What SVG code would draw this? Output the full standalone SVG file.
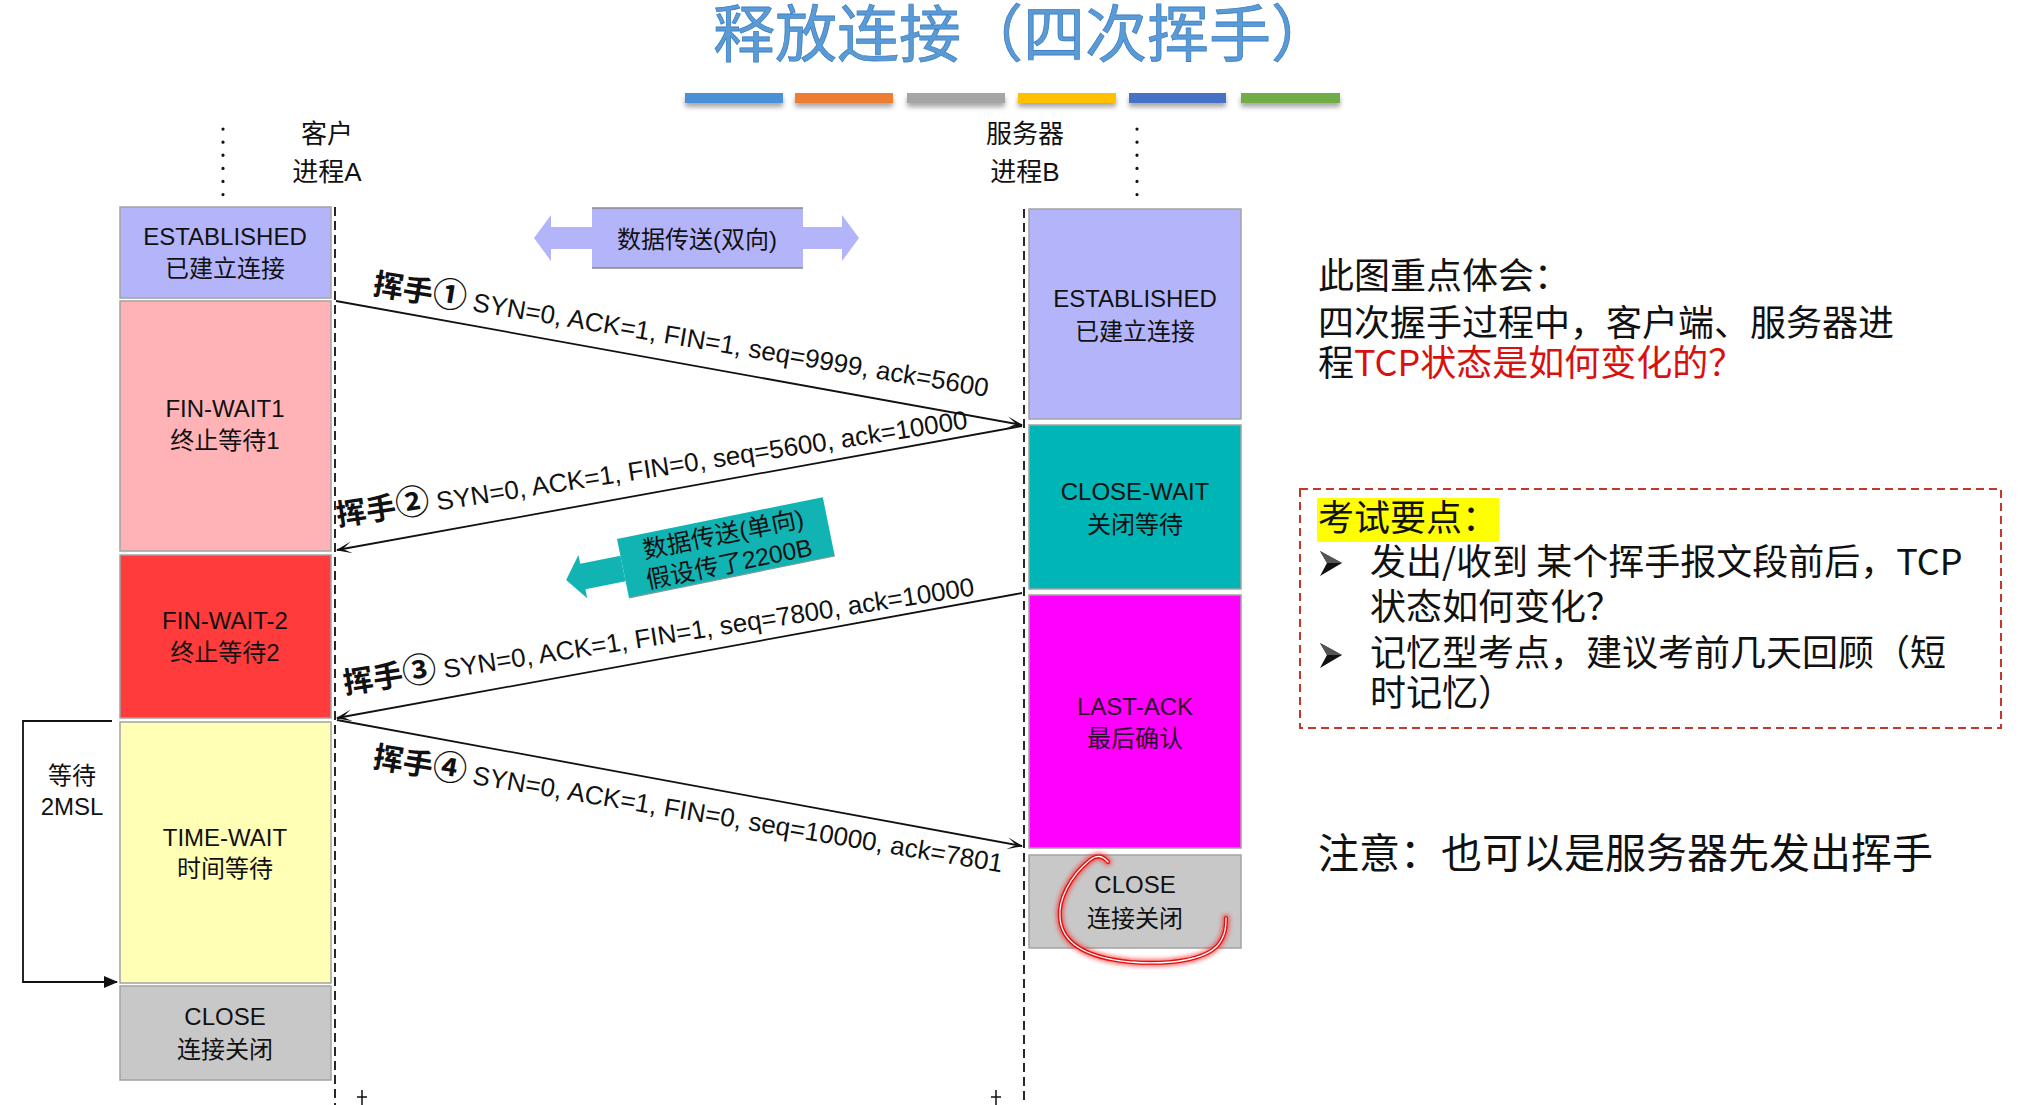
<svg xmlns="http://www.w3.org/2000/svg" width="2020" height="1105" viewBox="0 0 2020 1105">
<defs>
<style>
text{font-family:"Liberation Sans","Noto Sans CJK SC",sans-serif;fill:#111}
.cjk{font-family:"Noto Sans CJK SC",sans-serif}
.lbl{font-size:24px;text-anchor:middle}
.box{stroke:#a3a3a3;stroke-width:1.5}
.life{stroke:#111;stroke-width:1.8;stroke-dasharray:9 5;fill:none}
.dots{stroke:#111;stroke-width:3.2;stroke-linecap:round;stroke-dasharray:0.1 13;fill:none}
.msgline{stroke:#111;stroke-width:1.8;fill:none;marker-end:url(#stealth)}
.hw{font-family:"Noto Sans CJK SC",sans-serif;font-size:30px;font-weight:bold}
.num{font-family:"Noto Sans CJK SC",sans-serif;font-size:34px;font-weight:bold}
.msg{font-size:26px}
.note{font-family:"Noto Sans CJK SC",sans-serif;font-size:36px;fill:#111}
.bar{filter:url(#barsh)}
</style>
<marker id="stealth" viewBox="0 0 16 12" refX="15" refY="6" markerWidth="16" markerHeight="12" markerUnits="userSpaceOnUse" orient="auto">
<path d="M0,0 L16,6 L0,12 L9,6 z" fill="#111"/>
</marker>
<marker id="tri" viewBox="0 0 14 12" refX="13" refY="6" markerWidth="14" markerHeight="12" markerUnits="userSpaceOnUse" orient="auto">
<path d="M0,0 L14,6 L0,12 z" fill="#111"/>
</marker>
<filter id="barsh" x="-10%" y="-50%" width="120%" height="250%">
<feDropShadow dx="0" dy="4" stdDeviation="2.5" flood-color="#000" flood-opacity="0.35"/>
</filter>
<filter id="glow" x="-20%" y="-20%" width="140%" height="140%">
<feGaussianBlur stdDeviation="2"/>
</filter>
</defs>
<rect width="2020" height="1105" fill="#ffffff"/>

<g id="title">
<text class="cjk" x="1023" y="57" font-size="62" text-anchor="middle" style="fill:#5b9bd5;stroke:#3f80c4;stroke-width:0.8">释放连接（四次挥手）</text>
<rect class="bar" x="685" y="93" width="98" height="10" fill="#4a90d9"/>
<rect class="bar" x="795" y="93" width="98" height="10" fill="#ed7d31"/>
<rect class="bar" x="907" y="93" width="98" height="10" fill="#a5a5a5"/>
<rect class="bar" x="1018" y="93" width="98" height="10" fill="#ffc000"/>
<rect class="bar" x="1129" y="93" width="97" height="10" fill="#4472c4"/>
<rect class="bar" x="1241" y="93" width="99" height="10" fill="#70ad47"/>
</g>

<g id="client-header">
<text x="327" y="143" font-size="26" text-anchor="middle">客户</text>
<text x="327" y="181" font-size="26" text-anchor="middle">进程A</text>
<line class="dots" x1="223" y1="129" x2="223" y2="198"/>
</g>
<g id="server-header">
<text x="1025" y="143" font-size="26" text-anchor="middle">服务器</text>
<text x="1025" y="181" font-size="26" text-anchor="middle">进程B</text>
<line class="dots" x1="1137" y1="129" x2="1137" y2="198"/>
</g>

<g id="lifelines">
<line class="life" x1="335" y1="207" x2="335" y2="1105"/>
<line class="life" x1="1024" y1="209" x2="1024" y2="1105"/>
<path d="M362,1090 V1105 M357,1097 H367" stroke="#111" stroke-width="1.5"/>
<path d="M996,1090 V1105 M991,1097 H1001" stroke="#111" stroke-width="1.5"/>
</g>

<g id="c-established">
<rect class="box" x="120" y="207" width="211" height="91" fill="#b4b4fb"/>
<text class="lbl" x="225" y="245">ESTABLISHED</text>
<text class="lbl" x="225" y="277">已建立连接</text>
</g>
<g id="c-finwait1">
<rect class="box" x="120" y="301" width="211" height="250" fill="#ffb3b6"/>
<text class="lbl" x="225" y="417">FIN-WAIT1</text>
<text class="lbl" x="225" y="449">终止等待1</text>
</g>
<g id="c-finwait2">
<rect class="box" x="120" y="555" width="211" height="163" fill="#ff3b3b"/>
<text class="lbl" x="225" y="629">FIN-WAIT-2</text>
<text class="lbl" x="225" y="661">终止等待2</text>
</g>
<g id="c-timewait">
<rect class="box" x="120" y="722" width="211" height="261" fill="#ffffb5"/>
<text class="lbl" x="225" y="846">TIME-WAIT</text>
<text class="lbl" x="225" y="877">时间等待</text>
</g>
<g id="c-close">
<rect class="box" x="120" y="986" width="211" height="94" fill="#c8c8c8"/>
<text class="lbl" x="225" y="1025">CLOSE</text>
<text class="lbl" x="225" y="1058">连接关闭</text>
</g>

<g id="s-established">
<rect class="box" x="1029" y="209" width="212" height="210" fill="#b4b4fb"/>
<text class="lbl" x="1135" y="307">ESTABLISHED</text>
<text class="lbl" x="1135" y="340">已建立连接</text>
</g>
<g id="s-closewait">
<rect class="box" x="1029" y="425" width="212" height="164" fill="#00b5b5"/>
<text class="lbl" x="1135" y="500">CLOSE-WAIT</text>
<text class="lbl" x="1135" y="533">关闭等待</text>
</g>
<g id="s-lastack">
<rect class="box" x="1029" y="595" width="212" height="253" fill="#ff00ff"/>
<text class="lbl" x="1135" y="715" style="fill:#2a0a2a">LAST-ACK</text>
<text class="lbl" x="1135" y="747" style="fill:#2a0a2a">最后确认</text>
</g>
<g id="s-close">
<rect class="box" x="1029" y="855" width="212" height="93" fill="#c8c8c8"/>
<text class="lbl" x="1135" y="893">CLOSE</text>
<text class="lbl" x="1135" y="927">连接关闭</text>
</g>

<g id="data-bidirectional">
<path d="M592,227 H551 V215 L534,238 L551,261 V249 H592 Z" fill="#b4b4fb"/>
<path d="M803,227 H842 V215 L859,238 L842,261 V249 H803 Z" fill="#b4b4fb"/>
<rect x="592" y="208" width="211" height="60" fill="#b4b4fb"/>
<line x1="592" y1="208" x2="803" y2="208" stroke="#8a8a8a" stroke-width="1.5"/>
<line x1="592" y1="268" x2="803" y2="268" stroke="#8a8a8a" stroke-width="1.5"/>
<text x="697" y="248" font-size="24" text-anchor="middle">数据传送(双向)</text>
</g>

<g id="data-unidirectional" transform="translate(617,539) rotate(-11.5)">
<path d="M0,17 H-41 V8 L-58,30 L-41,52 V43 H0 Z" fill="#12b3b3"/>
<rect x="0" y="0" width="210" height="60" fill="#12b3b3"/>
<line x1="0" y1="60" x2="210" y2="60" stroke="#7a9a9a" stroke-width="1.2"/>
<text x="105" y="25" font-size="24.5" text-anchor="middle">数据传送(单向)</text>
<text x="105" y="55" font-size="24.5" text-anchor="middle">假设传了2200B</text>
</g>

<g id="wait-2msl">
<polyline points="112,721 23,721 23,982 117,982" fill="none" stroke="#111" stroke-width="1.8" marker-end="url(#tri)"/>
<text x="72" y="784" font-size="24" text-anchor="middle">等待</text>
<text x="72" y="815" font-size="24" text-anchor="middle">2MSL</text>
</g>

<g id="connectors">
<line class="msgline" x1="336" y1="301" x2="1022" y2="425"/>
<line class="msgline" x1="1022" y1="426" x2="337" y2="550"/>
<line class="msgline" x1="1022" y1="593" x2="337" y2="718"/>
<line class="msgline" x1="337" y1="720" x2="1022" y2="846"/>
<text transform="translate(372,294) rotate(9.5)"><tspan class="hw">挥手</tspan><tspan class="num">①</tspan><tspan class="msg" dx="7">SYN=0, ACK=1, FIN=1, seq=9999, ack=5600</tspan></text>
<text transform="translate(338,526) rotate(-8.8)"><tspan class="hw">挥手</tspan><tspan class="num">②</tspan><tspan class="msg" dx="7">SYN=0, ACK=1, FIN=0, seq=5600, ack=10000</tspan></text>
<text transform="translate(345,694) rotate(-8.9)"><tspan class="hw">挥手</tspan><tspan class="num">③</tspan><tspan class="msg" dx="7">SYN=0, ACK=1, FIN=1, seq=7800, ack=10000</tspan></text>
<text transform="translate(372,767) rotate(9.5)"><tspan class="hw">挥手</tspan><tspan class="num">④</tspan><tspan class="msg" dx="7">SYN=0, ACK=1, FIN=0, seq=10000, ack=7801</tspan></text>
</g>

<g id="red-circle">
<path d="M1108,862 Q1100,852 1090,860 C1070,876 1058,900 1060,918 C1062,945 1090,958 1130,962 C1170,965 1205,960 1218,945 C1226,935 1226,925 1226,918" fill="none" stroke="#ff2020" stroke-width="7" stroke-linecap="round" filter="url(#glow)" opacity="0.7"/>
<path d="M1108,862 Q1100,852 1090,860 C1070,876 1058,900 1060,918 C1062,945 1090,958 1130,962 C1170,965 1205,960 1218,945 C1226,935 1226,925 1226,918" fill="none" stroke="#e01010" stroke-width="4" stroke-linecap="round"/>
<path d="M1108,862 Q1100,852 1090,860 C1070,876 1058,900 1060,918 C1062,945 1090,958 1130,962 C1170,965 1205,960 1218,945 C1226,935 1226,925 1226,918" fill="none" stroke="#ffffff" stroke-width="1.3" stroke-linecap="round"/>
</g>

<g id="focus-note">
<text class="note" x="1318" y="289">此图重点体会：</text>
<text class="note" x="1318" y="336">四次握手过程中，客户端、服务器进</text>
<text class="note" x="1318" y="376">程<tspan style="fill:#d91010">TCP状态是如何变化的？</tspan></text>
</g>

<g id="exam-points">
<rect x="1300" y="489" width="701" height="239" fill="none" stroke="#c0392b" stroke-width="2" stroke-dasharray="8 5"/>
<rect x="1317" y="498" width="182" height="44" fill="#ffff00"/>
<text class="note" x="1318" y="531">考试要点：</text>
<path d="M1320,551 L1342,563 L1320,576 L1327,563 Z" fill="#111"/>
<path d="M1320,551 L1342,563 L1327,563 Z" fill="#555"/>
<text class="note" x="1370" y="575">发出/收到 某个挥手报文段前后，TCP</text>
<text class="note" x="1370" y="620">状态如何变化？</text>
<path d="M1320,643 L1342,655 L1320,668 L1327,655 Z" fill="#111"/>
<path d="M1320,643 L1342,655 L1327,655 Z" fill="#555"/>
<text class="note" x="1370" y="666">记忆型考点，建议考前几天回顾（短</text>
<text class="note" x="1370" y="706">时记忆）</text>
</g>

<g id="remark">
<text class="note" x="1318" y="868" style="font-size:41px">注意：也可以是服务器先发出挥手</text>
</g>
</svg>
